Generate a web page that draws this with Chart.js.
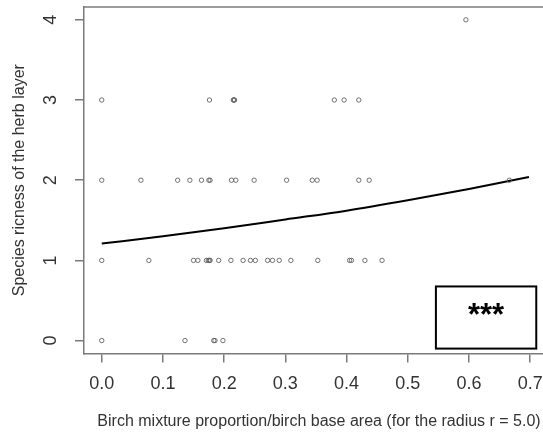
<!DOCTYPE html>
<html lang="en">
<head>
    <meta charset="UTF-8">
    <title>Species richness vs birch mixture</title>
    <script src="https://cdn.jsdelivr.net/npm/chart.js"></script>
    <style>
        html, body { margin: 0; padding: 0; background: #fff; }
        canvas { display: block; }
    </style>
</head>
<body>
    <canvas id="richness" width="543" height="432"></canvas>

    <script>
        // observed plots: birch proportion (x) and herb-layer species count (y)
        const pointX = [
            0.595,
            0.0, 0.176, 0.215, 0.216, 0.217, 0.38, 0.396, 0.42,
            0.0, 0.064, 0.124, 0.144, 0.163, 0.175, 0.177, 0.212, 0.219, 0.249, 0.302, 0.344, 0.352, 0.42, 0.437, 0.666,
            0.0, 0.077, 0.150, 0.157, 0.171, 0.174, 0.176, 0.177, 0.191, 0.211, 0.231, 0.243, 0.251, 0.271, 0.279, 0.290, 0.309, 0.353, 0.405, 0.408, 0.430, 0.458,
            0.0, 0.136, 0.183, 0.185, 0.198
        ];
        const pointY = [
            4,
            3, 3, 3, 3, 3, 3, 3, 3,
            2, 2, 2, 2, 2, 2, 2, 2, 2, 2, 2, 2, 2, 2, 2, 2,
            1, 1, 1, 1, 1, 1, 1, 1, 1, 1, 1, 1, 1, 1, 1, 1, 1, 1, 1, 1, 1, 1,
            0, 0, 0, 0, 0
        ];

        // fitted curve
        const curveX = [0.0, 0.1, 0.2, 0.3, 0.4, 0.5, 0.6, 0.698];
        const curveY = [1.21, 1.30, 1.40, 1.51, 1.62, 1.75, 1.89, 2.04];

        const xTickValues = [0.0, 0.1, 0.2, 0.3, 0.4, 0.5, 0.6, 0.7];
        const yTickValues = [0, 1, 2, 3, 4];

        const xTitle = "Birch mixture proportion/birch base area (for the radius r = 5.0)";
        const yTitle = "Species ricness of the herb layer";
        const signifText = "***";

        const textColor = "#333";
        const frameColor = "#7a7a7a";
        const fontFamily = "'Liberation Sans', Arial, sans-serif";

        const extras = {
            id: "extras",
            afterDraw(chart) {
                const ctx = chart.ctx;
                const area = chart.chartArea;
                const xs = chart.scales.x;
                const ys = chart.scales.y;
                ctx.save();

                // top frame line (right side is cut off in the original)
                ctx.strokeStyle = frameColor;
                ctx.lineWidth = 1.5;
                ctx.beginPath();
                ctx.moveTo(area.left, area.top);
                ctx.lineTo(chart.width, area.top);
                ctx.stroke();

                // y tick labels, rotated like R
                ctx.fillStyle = textColor;
                ctx.font = "18px " + fontFamily;
                ctx.textAlign = "center";
                ctx.textBaseline = "middle";
                yTickValues.forEach(v => {
                    ctx.save();
                    ctx.translate(51, ys.getPixelForValue(v));
                    ctx.rotate(-Math.PI / 2);
                    ctx.fillText(String(v), 0, 0);
                    ctx.restore();
                });

                // axis titles
                ctx.font = "16px " + fontFamily;
                ctx.save();
                ctx.translate(20, (area.top + area.bottom) / 2);
                ctx.rotate(-Math.PI / 2);
                ctx.fillText(yTitle, 0, 0);
                ctx.restore();
                ctx.fillText(xTitle, 319, 422);

                // significance box
                const bx0 = xs.getPixelForValue(0.546);
                const bx1 = xs.getPixelForValue(0.710);
                const by0 = ys.getPixelForValue(0.675);
                const by1 = ys.getPixelForValue(-0.10);
                ctx.strokeStyle = "#000";
                ctx.lineWidth = 2;
                ctx.strokeRect(bx0, by0, bx1 - bx0, by1 - by0);
                ctx.fillStyle = "#000";
                ctx.font = "bold 31px " + fontFamily;
                ctx.fillText(signifText, (bx0 + bx1) / 2, (by0 + by1) / 2 - 1);

                ctx.restore();
            }
        };

        function drawChart() {
            const ctx = document.getElementById("richness").getContext("2d");
            new Chart(ctx, {
                type: "scatter",
                data: {
                    datasets: [{
                        label: "plots",
                        data: pointX.map((x, i) => ({ x: x, y: pointY[i] })),
                        pointRadius: 2.2,
                        pointBorderWidth: 1,
                        pointBorderColor: "rgba(90, 90, 90, 0.85)",
                        pointBackgroundColor: "rgba(255, 255, 255, 0)",
                        pointHoverRadius: 2.2
                    }, {
                        type: "line",
                        label: "fit",
                        data: curveX.map((x, i) => ({ x: x, y: curveY[i] })),
                        borderColor: "#000",
                        borderWidth: 2,
                        pointRadius: 0,
                        fill: false,
                        cubicInterpolationMode: "monotone"
                    }]
                },
                options: {
                    responsive: false,
                    animation: false,
                    layout: {
                        autoPadding: false,
                        padding: { left: 75, top: 7, right: 0, bottom: 26 }
                    },
                    plugins: {
                        legend: { display: false },
                        tooltip: { enabled: false }
                    },
                    scales: {
                        x: {
                            type: "linear",
                            min: -0.029,
                            max: 0.721,
                            afterBuildTicks: scale => {
                                scale.ticks = xTickValues.map(v => ({ value: v }));
                            },
                            afterFit: scale => {
                                // plot runs off the right edge, as in the original
                                scale.paddingRight = 0;
                                scale.paddingLeft = 0;
                            },
                            grid: {
                                drawOnChartArea: false,
                                drawTicks: true,
                                tickLength: 9,
                                color: frameColor,
                                lineWidth: 1.5
                            },
                            border: { display: true, color: frameColor, width: 1.5 },
                            ticks: {
                                color: textColor,
                                font: { family: fontFamily, size: 18 },
                                padding: 11,
                                maxRotation: 0,
                                callback: v => Number(v).toFixed(1)
                            }
                        },
                        y: {
                            type: "linear",
                            min: -0.16,
                            max: 4.16,
                            afterBuildTicks: scale => {
                                scale.ticks = yTickValues.map(v => ({ value: v }));
                            },
                            grid: {
                                drawOnChartArea: false,
                                drawTicks: true,
                                tickLength: 9,
                                color: frameColor,
                                lineWidth: 1.5
                            },
                            border: { display: true, color: frameColor, width: 1.5 },
                            ticks: { display: false }
                        }
                    }
                },
                plugins: [extras]
            });
        }
        window.onload = drawChart;
    </script>
</body>
</html>
